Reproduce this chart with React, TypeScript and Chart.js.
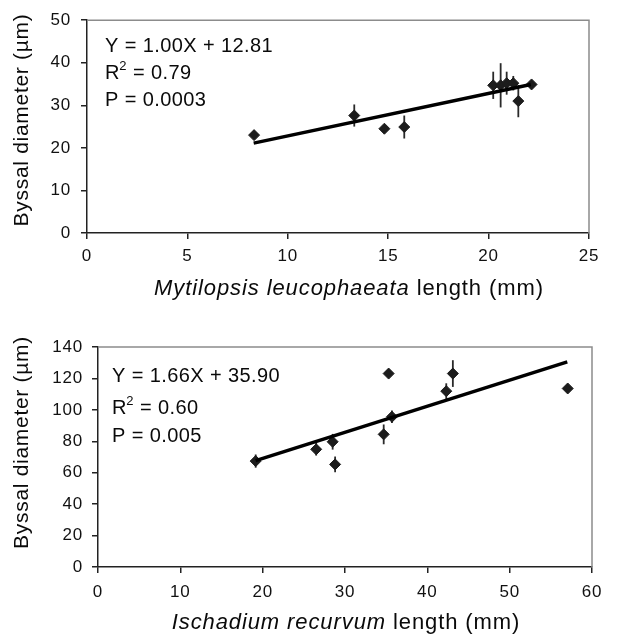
import React, { useEffect, useRef } from 'react';
import { Chart, registerables } from 'chart.js';

Chart.register(...registerables);

const FONT = '"Liberation Sans", Arial, Helvetica, sans-serif';

// ---------- Panel A: Mytilopsis leucophaeata ----------
const mytLength = [8.32, 13.31, 14.81, 15.8, 20.23, 20.6, 20.9, 21.23, 21.48, 22.14];
const mytDiameter = [23.0, 27.6, 24.5, 24.9, 34.7, 34.7, 35.2, 35.2, 31.0, 34.9];
const mytError = [0, 2.6, 0, 2.7, 3.2, 5.2, 2.7, 1.7, 3.8, 0];
const mytFitRange = [8.3, 22.1];
const mytSlope = 1.0;
const mytIntercept = 12.81;
const mytXTicks = [0, 5, 10, 15, 20, 25];
const mytYTicks = [0, 10, 20, 30, 40, 50];
const mytStats = ['Y = 1.00X + 12.81', 'R² = 0.79', 'P = 0.0003'];
const mytTitleItalic = 'Mytilopsis leucophaeata';

// ---------- Panel B: Ischadium recurvum ----------
const ischLength = [19.15, 26.5, 28.5, 28.8, 34.7, 35.3, 35.7, 42.3, 43.1, 57.05];
const ischDiameter = [67.4, 74.9, 79.7, 65.3, 84.4, 123.1, 95.6, 111.9, 123.1, 113.6];
const ischError = [4.2, 4.0, 5.0, 5.0, 6.3, 0, 4.0, 5.0, 8.5, 0];
const ischFitRange = [19.15, 57.0];
const ischSlope = 1.66;
const ischIntercept = 35.9;
const ischXTicks = [0, 10, 20, 30, 40, 50, 60];
const ischYTicks = [0, 20, 40, 60, 80, 100, 120, 140];
const ischStats = ['Y = 1.66X + 35.90', 'R² = 0.60', 'P = 0.005'];
const ischTitleItalic = 'Ischadium recurvum';

const titleRest = ' length (mm)';
const yTitle = 'Byssal diameter (µm)';

type Panel = {
  xs: number[]; ys: number[]; err: number[];
  fitRange: number[]; slope: number; intercept: number;
  xTicks: number[]; yTicks: number[];
  stats: string[]; italic: string;
  yAxisWidth: number; xAxisHeight: number; padTop: number; padRight: number;
  xTickPad: number; yTickPad: number;
  statX: number; statY: number[];
  xTitleDx: number; xTitleDy: number; yTitleCy: number;
};

const panels: Panel[] = [
  {
    xs: mytLength, ys: mytDiameter, err: mytError,
    fitRange: mytFitRange, slope: mytSlope, intercept: mytIntercept,
    xTicks: mytXTicks, yTicks: mytYTicks, stats: mytStats, italic: mytTitleItalic,
    yAxisWidth: 87, xAxisHeight: 87, padTop: 15, padRight: 41,
    xTickPad: 7, yTickPad: 10,
    statX: 18, statY: [26.7, 53.3, 80],
    xTitleDx: 11, xTitleDy: 56, yTitleCy: 120,
  },
  {
    xs: ischLength, ys: ischDiameter, err: ischError,
    fitRange: ischFitRange, slope: ischSlope, intercept: ischIntercept,
    xTicks: ischXTicks, yTicks: ischYTicks, stats: ischStats, italic: ischTitleItalic,
    yAxisWidth: 98, xAxisHeight: 73, padTop: 27, padRight: 38,
    xTickPad: 9, yTickPad: 9,
    statX: 14, statY: [29.7, 61.3, 89.7],
    xTitleDx: 1, xTitleDy: 56, yTitleCy: 122.5,
  },
];

function makePlugin(p: Panel) {
  return {
    id: 'panelDecor',
    beforeDraw(chart: any) {
      const ctx = chart.ctx;
      ctx.save();
      ctx.fillStyle = '#ffffff';
      ctx.fillRect(0, 0, chart.width, chart.height);
      ctx.restore();
      (ctx as any).letterSpacing = '0.8px';
    },
    beforeDatasetsDraw(chart: any) {
      const ctx = chart.ctx;
      const xs = chart.scales.x;
      const ys = chart.scales.y;
      ctx.save();
      (ctx as any).letterSpacing = '0px';
      ctx.strokeStyle = '#2a2a2a';
      ctx.lineWidth = 1.8;
      p.xs.forEach((xv, i) => {
        const e = p.err[i];
        if (!e) return;
        const px = xs.getPixelForValue(xv);
        ctx.beginPath();
        ctx.moveTo(px, ys.getPixelForValue(p.ys[i] - e));
        ctx.lineTo(px, ys.getPixelForValue(p.ys[i] + e));
        ctx.stroke();
      });
      ctx.restore();
    },
    afterDraw(chart: any) {
      const ctx = chart.ctx;
      const a = chart.chartArea;
      ctx.save();
      (ctx as any).letterSpacing = '0px';
      // light frame top and right
      ctx.strokeStyle = '#8c8c8c';
      ctx.lineWidth = 1.5;
      ctx.beginPath();
      ctx.moveTo(a.left, a.top);
      ctx.lineTo(a.right, a.top);
      ctx.lineTo(a.right, a.bottom);
      ctx.stroke();

      ctx.fillStyle = '#0a0a0a';
      // stats text
      ctx.textBaseline = 'middle';
      ctx.textAlign = 'left';
      (ctx as any).letterSpacing = '0.4px';
      p.stats.forEach((s, i) => {
        const x0 = a.left + p.statX;
        const y0 = a.top + p.statY[i];
        ctx.font = `20px ${FONT}`;
        if (s.startsWith('R²')) {
          ctx.fillText('R', x0, y0);
          const w = ctx.measureText('R').width;
          ctx.font = `13px ${FONT}`;
          ctx.fillText('2', x0 + w - 0.5, y0 - 7);
          const w2 = ctx.measureText('2').width;
          ctx.font = `20px ${FONT}`;
          ctx.fillText(s.slice(2), x0 + w + w2 - 0.5, y0);
        } else {
          ctx.fillText(s, x0, y0);
        }
      });

      // x title (italic species + normal rest)
      (ctx as any).letterSpacing = '0.9px';
      ctx.font = `italic 22px ${FONT}`;
      const w1 = ctx.measureText(p.italic).width;
      ctx.font = `22px ${FONT}`;
      const w2 = ctx.measureText(titleRest).width;
      const cx = (a.left + a.right) / 2 + p.xTitleDx;
      const ty = a.bottom + p.xTitleDy;
      const sx = cx - (w1 + w2) / 2;
      ctx.font = `italic 22px ${FONT}`;
      ctx.fillText(p.italic, sx, ty);
      ctx.font = `22px ${FONT}`;
      ctx.fillText(titleRest, sx + w1, ty);

      // y title
      (ctx as any).letterSpacing = '0.7px';
      ctx.translate(22, p.yTitleCy);
      ctx.rotate(-Math.PI / 2);
      ctx.textAlign = 'center';
      ctx.font = `21px ${FONT}`;
      ctx.fillText(yTitle, 0, 0);
      ctx.restore();
    },
  };
}

function makeConfig(p: Panel): any {
  const points = p.xs.map((x, i) => ({ x, y: p.ys[i] }));
  const fit = p.fitRange.map((x) => ({ x, y: p.slope * x + p.intercept }));
  const tickFont = { family: FONT, size: 17 };
  return {
    type: 'scatter',
    data: {
      datasets: [
        {
          data: points,
          pointStyle: 'rectRot',
          pointRadius: 5.5,
          pointHoverRadius: 5.5,
          backgroundColor: '#1c1c1c',
          borderColor: '#1c1c1c',
          borderWidth: 1,
          showLine: false,
          order: 2,
        },
        {
          type: 'line',
          data: fit,
          borderColor: '#000',
          borderWidth: 3.5,
          pointRadius: 0,
          fill: false,
          tension: 0,
          order: 1,
        },
      ],
    },
    options: {
      responsive: false,
      animation: false,
      events: [],
      layout: { padding: { left: 0, right: p.padRight, top: p.padTop, bottom: 0 } },
      plugins: { legend: { display: false }, tooltip: { enabled: false } },
      scales: {
        x: {
          type: 'linear',
          position: 'bottom',
          min: p.xTicks[0],
          max: p.xTicks[p.xTicks.length - 1],
          ticks: {
            stepSize: p.xTicks[1] - p.xTicks[0],
            font: tickFont,
            color: '#111',
            padding: p.xTickPad,
            maxRotation: 0,
          },
          grid: { drawOnChartArea: false, drawTicks: true, tickLength: 6, color: '#222', lineWidth: 1.5 },
          border: { display: true, color: '#222', width: 1.5 },
          afterFit: (s: any) => { s.height = p.xAxisHeight; },
        },
        y: {
          type: 'linear',
          position: 'left',
          min: p.yTicks[0],
          max: p.yTicks[p.yTicks.length - 1],
          ticks: {
            stepSize: p.yTicks[1] - p.yTicks[0],
            font: tickFont,
            color: '#111',
            padding: p.yTickPad,
          },
          grid: { drawOnChartArea: false, drawTicks: true, tickLength: 6, color: '#222', lineWidth: 1.5 },
          border: { display: true, color: '#222', width: 1.5 },
          afterFit: (s: any) => { s.width = p.yAxisWidth; },
        },
      },
    },
    plugins: [makePlugin(p)],
  };
}

function PanelChart({ panel, top }: { panel: Panel; top: number }) {
  const ref = useRef<HTMLCanvasElement | null>(null);
  useEffect(() => {
    if (!ref.current) return;
    const chart = new Chart(ref.current, makeConfig(panel));
    return () => chart.destroy();
  }, [panel]);
  return (
    <canvas
      ref={ref}
      width={630}
      height={320}
      style={{ position: 'absolute', left: 0, top, width: 630, height: 320, display: 'block' }}
    />
  );
}

export default function App() {
  return (
    <div style={{ position: 'fixed', left: 0, top: 0, width: 630, height: 640, background: '#fff', overflow: 'hidden' }}>
      <PanelChart panel={panels[0]} top={0} />
      <PanelChart panel={panels[1]} top={320} />
    </div>
  );
}
